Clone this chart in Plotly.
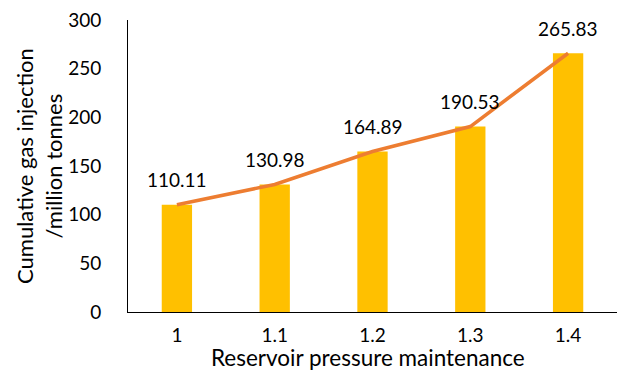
import plotly.graph_objects as go

# Reservoir pressure maintenance levels and cumulative gas injection
pressure_levels = ["1", "1.1", "1.2", "1.3", "1.4"]
gas_injection = [110.11, 130.98, 164.89, 190.53, 265.83]
y_ticks = [0, 50, 100, 150, 200, 250, 300]

FONT = "Lato"
BAR_COLOR = "#FFC000"
LINE_COLOR = "#ED7D31"
NUM_SIZE = 19
TITLE_SIZE = 22

fig = go.Figure()

fig.add_trace(go.Bar(
    x=pressure_levels,
    y=gas_injection,
    marker=dict(color=BAR_COLOR, line=dict(width=0)),
    hoverinfo="skip",
))

fig.add_trace(go.Scatter(
    x=pressure_levels,
    y=gas_injection,
    mode="lines",
    line=dict(color=LINE_COLOR, width=3.5),
    hoverinfo="skip",
))

# value labels above each point (category axis -> use positional index)
for i, val in enumerate(gas_injection):
    fig.add_annotation(
        x=i, y=val, text=f"{val:.2f}", showarrow=False,
        yshift=25, font=dict(family=FONT, size=NUM_SIZE, color="#000000"),
    )

# axis titles
fig.add_annotation(
    xref="paper", yref="paper", x=-0.182, y=0.5,
    xanchor="center", yanchor="middle", textangle=-90,
    text="Cumulative gas injection<br>/million tonnes", showarrow=False,
    font=dict(family=FONT, size=TITLE_SIZE, color="#000000"),
)
fig.add_annotation(
    xref="paper", yref="paper", x=0.49, y=-0.155,
    xanchor="center", yanchor="middle",
    text="Reservoir pressure maintenance", showarrow=False,
    font=dict(family=FONT, size=22.5, color="#000000"),
)

fig.update_layout(
    width=621, height=371,
    margin=dict(l=128, r=4, t=20, b=59),
    plot_bgcolor="white", paper_bgcolor="white",
    showlegend=False,
    bargap=0.69,
    font=dict(family=FONT, size=NUM_SIZE, color="#000000"),
)
fig.update_xaxes(
    type="category",
    showline=True, linecolor="#000000", linewidth=1,
    showgrid=False, ticks="", ticklabelstandoff=6,
    tickfont=dict(family=FONT, size=NUM_SIZE, color="#000000"),
)
fig.update_yaxes(
    range=[0, 300], tickvals=y_ticks,
    showline=True, linecolor="#000000", linewidth=1,
    showgrid=False, zeroline=False, ticks="", ticklabelstandoff=22,
    tickfont=dict(family=FONT, size=NUM_SIZE, color="#000000"),
)

fig.write_html("out.html")
